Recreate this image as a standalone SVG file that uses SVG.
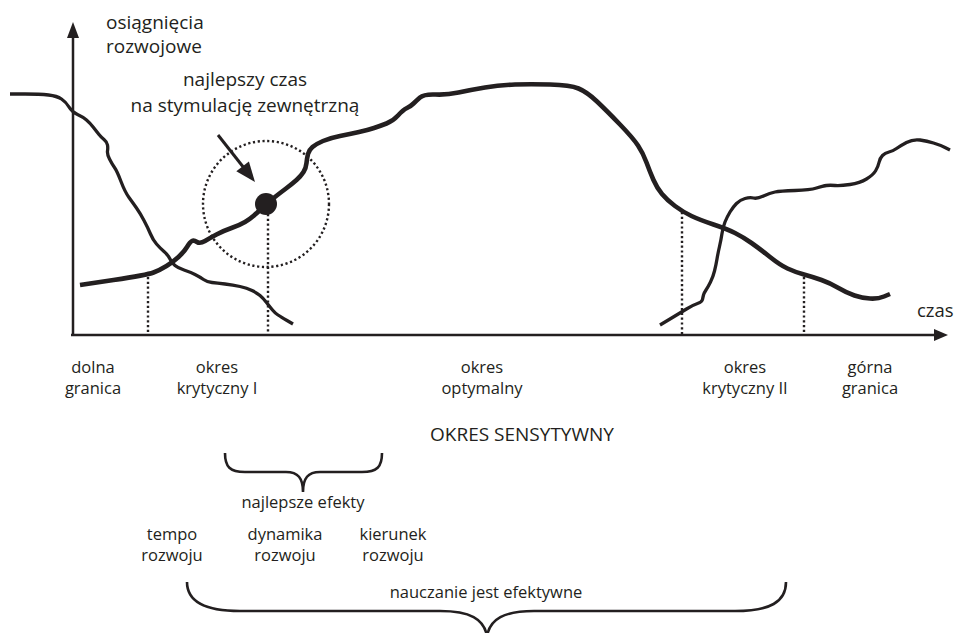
<svg xmlns="http://www.w3.org/2000/svg" width="955" height="633" viewBox="0 0 955 633">
  <style>
    text { font-family: "Open Sans", "Noto Sans", "Liberation Sans", sans-serif; fill: #231f20; }
    .big { font-size: 19px; }
    .lbl { font-size: 16.5px; text-anchor: middle; }
    .mid { text-anchor: middle; }
    .axis { stroke: #231f20; stroke-width: 2.5; fill: none; }
    .curve { stroke: #231f20; fill: none; stroke-linecap: butt; stroke-linejoin: round; }
    .dots { stroke: #231f20; stroke-width: 2.4; fill: none; stroke-dasharray: 2.2 2.6; }
    .brace { stroke: #231f20; stroke-width: 2.6; fill: none; }
    .head { fill: #231f20; }
  </style>

  <!-- axes -->
  <g id="axes">
    <line class="axis" x1="73" y1="336" x2="73" y2="34"/>
    <polygon class="head" points="73,22 67,38 79,38"/>
    <line class="axis" x1="71" y1="335" x2="936" y2="335"/>
    <polygon class="head" points="948,335 934,329 934,341"/>
    <text class="big" x="106" y="29">osiągnięcia</text>
    <text class="big" x="106" y="53">rozwojowe</text>
    <text x="917" y="317" font-size="18.5">czas</text>
  </g>

  <!-- development curves -->
  <g id="curves">
    <path id="curve-falling" class="curve" stroke-width="3.3" d="M10,94 L25,94 Q40,94 48.5,95 Q57,96 61.5,99 Q66,102 69,107 Q72,112 77.5,114.5 Q83,117 86.5,120 Q90,123 93.5,127.5 Q97,132 99,134.5 Q101,137 104,139.5 Q107,142 107.5,145 Q108,148 107.5,151 Q107,154 109.5,159 Q112,164 114.5,167.5 Q117,171 121,181.5 Q125,192 129,197.5 Q133,203 136.5,208 Q140,213 144,220.5 Q148,228 150.5,234 Q153,240 156.5,244 Q160,248 164,251.5 Q168,255 170,259 Q172,263 175,265.5 Q178,268 184,270 Q190,272 195,274.5 Q200,277 203.5,279.5 Q207,282 212,282.5 Q217,283 225,284 Q233,285 240,286.5 Q247,288 252,290.5 Q257,293 260,295.5 Q263,298 266.5,302.5 Q270,307 272.5,310 Q275,313 278,315 Q281,317 287,320.5 L293,324"/>
    <path id="curve-main" class="curve" stroke-width="4.6" d="M80,285 L113.5,280 Q147,275 153.5,272.5 Q160,270 166.5,266 Q173,262 178.5,257 Q184,252 187,247 Q190,242 192,241 Q194,240 197,242 Q200,244 205,241 Q210,238 216.5,234.5 Q223,231 231.5,228 Q240,225 245,222 Q250,219 254,215.5 Q258,212 262,208 Q266,204 273,198.5 Q280,193 286,188.5 Q292,184 296.5,180 Q301,176 303.5,172 Q306,168 306.5,163 Q307,158 308,154 Q309,150 312.5,147 Q316,144 323,141 Q330,138 340,136 Q350,134 359,132 Q368,130 374,128 Q380,126 386.5,123.5 Q393,121 398,115.5 Q403,110 407,108 Q411,106 413.5,103.5 Q416,101 420,97.5 Q424,94 435.5,94.5 Q447,95 458.5,92.5 Q470,90 485,87.5 Q500,85 515,84.5 Q530,84 550,84.5 Q570,85 578.5,88.5 Q587,92 597,101.5 Q607,111 620,124.5 Q633,138 638,145.5 Q643,153 646.5,162.5 Q650,172 653.5,180 Q657,188 662,194 Q667,200 675,206 Q683,212 691.5,216 Q700,220 713.5,224.5 Q727,229 735,233 Q743,237 751.5,243 Q760,249 770,257 Q780,265 787.5,268.5 Q795,272 804,274.5 Q813,277 821.5,280 Q830,283 838.5,288 Q847,293 854.5,295.5 Q862,298 870,298.5 Q878,299 884,296.5 L890,294"/>
    <path id="curve-rising" class="curve" stroke-width="3.3" d="M660,325 L670,319 Q680,313 686.5,309 Q693,305 697.5,303.5 Q702,302 702.5,299.5 Q703,297 703.5,295 Q704,293 706,290 Q708,287 710.5,282 Q713,277 714.5,271 Q716,265 717,259 Q718,253 719.5,246.5 Q721,240 722,233.5 Q723,227 725,222 Q727,217 730,212 Q733,207 736.5,203.5 Q740,200 745,198.5 Q750,197 753.5,198 Q757,199 763.5,196 Q770,193 775,192 Q780,191 795,190.5 Q810,190 816.5,188 Q823,186 826.5,185.5 Q830,185 835,185.5 Q840,186 850,184.5 Q860,183 866.5,179 Q873,175 875.5,171 Q878,167 879,162.5 Q880,158 882.5,155.5 Q885,153 889,152 Q893,151 896.5,148.5 Q900,146 906.5,142.5 Q913,139 920,140 Q927,141 933.5,143 Q940,145 945,147.5 L950,150"/>
  </g>

  <!-- period boundaries and pointer -->
  <g id="connectors">
    <line class="dots" x1="148" y1="277" x2="148" y2="334"/>
    <line class="dots" x1="268" y1="214" x2="268" y2="334"/>
    <line class="dots" x1="682" y1="212" x2="682" y2="334"/>
    <line class="dots" x1="804" y1="277" x2="804" y2="334"/>
    <line x1="218" y1="135" x2="244" y2="168" stroke="#231f20" stroke-width="3"/>
    <polygon class="head" points="255,182 236.3,171.2 248.9,161.4"/>
  </g>

  <!-- best stimulation moment -->
  <g id="stimulation">
    <circle class="dots" cx="266" cy="204" r="63"/>
    <circle cx="266" cy="204" r="11" fill="#231f20"/>
    <text class="big mid" x="245" y="86">najlepszy czas</text>
    <text class="big mid" x="245" y="112">na stymulację zewnętrzną</text>
  </g>

  <!-- period labels -->
  <g id="lower-limit">
    <text class="lbl" x="93" y="373">dolna</text>
    <text class="lbl" x="93" y="394">granica</text>
  </g>
  <g id="critical-1">
    <text class="lbl" x="217" y="373">okres</text>
    <text class="lbl" x="217" y="394">krytyczny I</text>
  </g>
  <g id="optimal">
    <text class="lbl" x="482" y="373">okres</text>
    <text class="lbl" x="482" y="394">optymalny</text>
  </g>
  <g id="critical-2">
    <text class="lbl" x="745" y="373">okres</text>
    <text class="lbl" x="745" y="394">krytyczny II</text>
  </g>
  <g id="upper-limit">
    <text class="lbl" x="870" y="373">górna</text>
    <text class="lbl" x="870" y="394">granica</text>
  </g>

  <g id="sensitive">
    <text class="big mid" x="522" y="441" font-size="19.4">OKRES SENSYTYWNY</text>
  </g>

  <g id="best-effects">
    <path class="brace" d="M225,453 C225,467 230,472 245,472 L286,472 C298,472 303,478 303,492 C303,478 308,472 320,472 L362,472 C377,472 382,467 382,453"/>
    <text class="lbl" x="303" y="508">najlepsze efekty</text>
  </g>

  <g id="tempo">
    <text class="lbl" x="172" y="540">tempo</text>
    <text class="lbl" x="172" y="561">rozwoju</text>
  </g>
  <g id="dynamics">
    <text class="lbl" x="285" y="540">dynamika</text>
    <text class="lbl" x="285" y="561">rozwoju</text>
  </g>
  <g id="direction">
    <text class="lbl" x="393" y="540">kierunek</text>
    <text class="lbl" x="393" y="561">rozwoju</text>
  </g>

  <g id="effective-teaching">
    <path class="brace" d="M187,582 C187,602 205,611 240,611 L440,611 C470,611 484,619 487,636 C490,619 504,611 534,611 L735,611 C770,611 786,602 786,582"/>
    <text class="lbl" x="486" y="598">nauczanie jest efektywne</text>
  </g>
</svg>
